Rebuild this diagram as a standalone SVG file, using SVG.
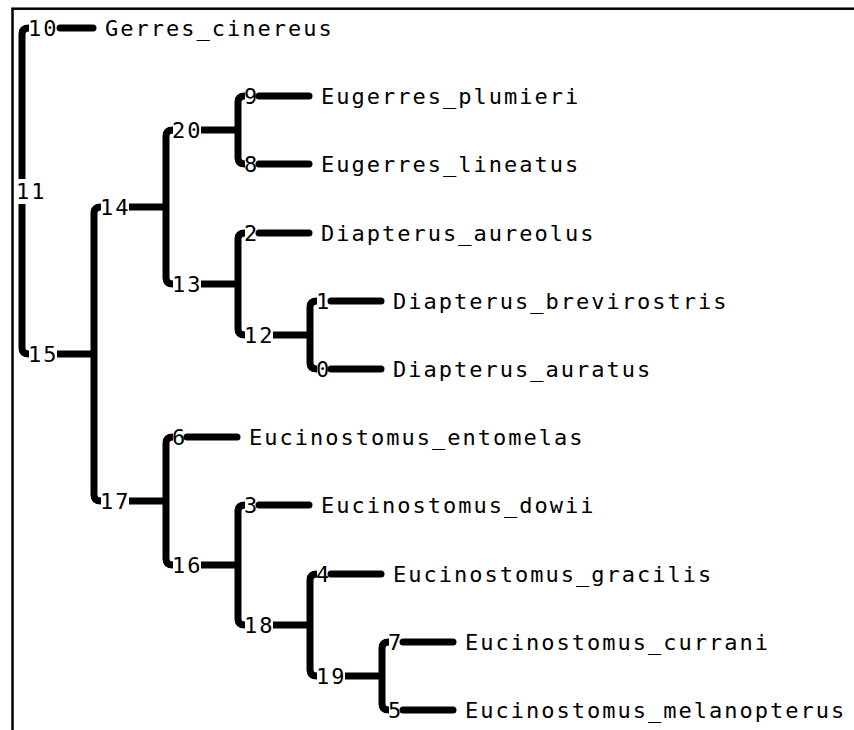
<svg xmlns="http://www.w3.org/2000/svg" width="854" height="730" viewBox="0 0 854 730">
<style>
.bg{fill:#fff}
.frame{fill:none;stroke:#000;stroke-width:2.5}
.br{fill:none;stroke:#000;stroke-width:7}
.lf{stroke-linecap:round}
.t{font-family:"DejaVu Sans Mono","Liberation Mono",monospace;font-size:22px;letter-spacing:2px;fill:#000}
</style>
<rect class="bg" x="0" y="0" width="854" height="730"/>
<rect class="frame" x="12.5" y="8.7" width="900" height="900"/>
<g id="connectors">
  <path class="br" d="M29 28 Q22 28 22 34 L22 348 Q22 354 29 354"/>
  <path class="br" d="M101 207 Q94 207 94 213 L94 495 Q94 501 101 501"/>
  <path class="br" d="M173 130 Q166 130 166 136 L166 278 Q166 284 173 284"/>
  <path class="br" d="M245 96 Q238 96 238 102 L238 158 Q238 164 245 164"/>
  <path class="br" d="M245 233 Q238 233 238 239 L238 329 Q238 335 245 335"/>
  <path class="br" d="M317 301 Q310 301 310 307 L310 363 Q310 369 317 369"/>
  <path class="br" d="M173 437 Q166 437 166 443 L166 559 Q166 565 173 565"/>
  <path class="br" d="M245 505 Q238 505 238 511 L238 619 Q238 625 245 625"/>
  <path class="br" d="M317 574 Q310 574 310 580 L310 670 Q310 676 317 676"/>
  <path class="br" d="M389 642 Q382 642 382 648 L382 704 Q382 710 389 710"/>
  <path class="br" d="M57 354 H94"/>
  <path class="br" d="M129 207 H166"/>
  <path class="br" d="M201 130 H238"/>
  <path class="br" d="M201 284 H238"/>
  <path class="br" d="M273 335 H310"/>
  <path class="br" d="M129 501 H166"/>
  <path class="br" d="M201 565 H238"/>
  <path class="br" d="M273 625 H310"/>
  <path class="br" d="M345 676 H382"/>
  <path class="br lf" d="M60 28 H93"/>
  <path class="br lf" d="M259 96 H309"/>
  <path class="br lf" d="M259 164 H309"/>
  <path class="br lf" d="M259 233 H309"/>
  <path class="br lf" d="M331 301 H381"/>
  <path class="br lf" d="M331 369 H381"/>
  <path class="br lf" d="M187 437 H237"/>
  <path class="br lf" d="M259 505 H309"/>
  <path class="br lf" d="M331 574 H381"/>
  <path class="br lf" d="M403 642 H453"/>
  <path class="br lf" d="M403 710 H453"/>
</g>
<g id="node11"><rect class="bg" x="16" y="179" width="30" height="25"/><text class="t" x="16" y="199">11</text></g>
<g id="node10"><text class="t" x="28" y="36">10</text><text class="t" x="105" y="36">Gerres_cinereus</text></g>
<g id="node15"><text class="t" x="28" y="362">15</text></g>
<g id="node14"><text class="t" x="100" y="215">14</text></g>
<g id="node20"><text class="t" x="172" y="138">20</text></g>
<g id="node9"><text class="t" x="244" y="104">9</text><text class="t" x="321" y="104">Eugerres_plumieri</text></g>
<g id="node8"><text class="t" x="244" y="172">8</text><text class="t" x="321" y="172">Eugerres_lineatus</text></g>
<g id="node13"><text class="t" x="172" y="292">13</text></g>
<g id="node2"><text class="t" x="244" y="241">2</text><text class="t" x="321" y="241">Diapterus_aureolus</text></g>
<g id="node12"><text class="t" x="244" y="343">12</text></g>
<g id="node1"><text class="t" x="316" y="309">1</text><text class="t" x="393" y="309">Diapterus_brevirostris</text></g>
<g id="node0"><text class="t" x="316" y="377">0</text><text class="t" x="393" y="377">Diapterus_auratus</text></g>
<g id="node17"><text class="t" x="100" y="509">17</text></g>
<g id="node6"><text class="t" x="172" y="445">6</text><text class="t" x="249" y="445">Eucinostomus_entomelas</text></g>
<g id="node16"><text class="t" x="172" y="573">16</text></g>
<g id="node3"><text class="t" x="244" y="513">3</text><text class="t" x="321" y="513">Eucinostomus_dowii</text></g>
<g id="node18"><text class="t" x="244" y="633">18</text></g>
<g id="node4"><text class="t" x="316" y="582">4</text><text class="t" x="393" y="582">Eucinostomus_gracilis</text></g>
<g id="node19"><text class="t" x="316" y="684">19</text></g>
<g id="node7"><text class="t" x="388" y="650">7</text><text class="t" x="465" y="650">Eucinostomus_currani</text></g>
<g id="node5"><text class="t" x="388" y="718">5</text><text class="t" x="465" y="718">Eucinostomus_melanopterus</text></g>
</svg>
